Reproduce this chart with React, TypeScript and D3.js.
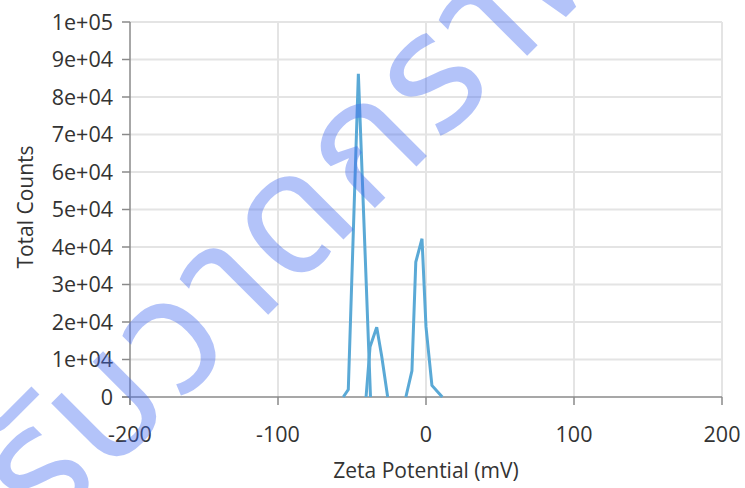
import React, { useRef, useEffect } from "react";
import * as d3 from "d3";

// three runs, same colour
const run1X = [-55.9, -52.5, -45.7, -37.5];
const run1Y = [0, 2000, 86200, 0];
const run2X = [-40.5, -37.8, -33.3, -29.9, -25.9];
const run2Y = [0, 13400, 18600, 10800, 0];
const run3X = [-13.6, -9.5, -6.9, -2.7, 0, 4, 11];
const run3Y = [0, 7000, 36000, 42200, 18700, 3100, 0];

const xTicks = [-200, -100, 0, 100, 200];
const yTicks = [0, 1e4, 2e4, 3e4, 4e4, 5e4, 6e4, 7e4, 8e4, 9e4, 1e5];
const yTickLabels = ["0", "1e+04", "2e+04", "3e+04", "4e+04", "5e+04", "6e+04", "7e+04", "8e+04", "9e+04", "1e+05"];

const watermark = "รับวาดกราฟ";

const W = 745;
const H = 488;
const font = "'Open Sans', 'Noto Sans', sans-serif";

export default function App() {
  const svgRef = useRef<SVGSVGElement>(null);

  useEffect(() => {
    if (!svgRef.current) return;
    const svg = d3.select(svgRef.current);
    svg.selectAll("*").remove();

    const left = 130, right = 722, top = 22, bottom = 397;
    const x = d3.scaleLinear().domain([-200, 200]).range([left, right]);
    const y = d3.scaleLinear().domain([0, 1e5]).range([bottom, top]);

    // grid
    svg.append("g")
      .selectAll("line")
      .data(yTicks.slice(1))
      .enter()
      .append("line")
      .attr("x1", left).attr("x2", right)
      .attr("y1", (d) => y(d)).attr("y2", (d) => y(d))
      .attr("stroke", "#e4e4e4").attr("stroke-width", 2);
    svg.append("g")
      .selectAll("line")
      .data(xTicks.slice(1))
      .enter()
      .append("line")
      .attr("x1", (d) => x(d)).attr("x2", (d) => x(d))
      .attr("y1", top).attr("y2", bottom)
      .attr("stroke", "#e4e4e4").attr("stroke-width", 2);

    // axes
    const axisColor = "#8a8a8a";
    svg.append("line")
      .attr("x1", left).attr("x2", left).attr("y1", top).attr("y2", bottom + 8)
      .attr("stroke", axisColor).attr("stroke-width", 1.5);
    svg.append("line")
      .attr("x1", left - 8).attr("x2", right).attr("y1", bottom).attr("y2", bottom)
      .attr("stroke", axisColor).attr("stroke-width", 1.5);

    svg.append("g")
      .selectAll("line")
      .data(yTicks)
      .enter()
      .append("line")
      .attr("x1", left - 8).attr("x2", left)
      .attr("y1", (d) => y(d)).attr("y2", (d) => y(d))
      .attr("stroke", axisColor).attr("stroke-width", 1.5);
    svg.append("g")
      .selectAll("line")
      .data(xTicks)
      .enter()
      .append("line")
      .attr("x1", (d) => x(d)).attr("x2", (d) => x(d))
      .attr("y1", bottom).attr("y2", bottom + 8)
      .attr("stroke", axisColor).attr("stroke-width", 1.5);

    svg.append("g")
      .selectAll("text")
      .data(yTicks)
      .enter()
      .append("text")
      .attr("x", left - 17)
      .attr("y", (d) => y(d))
      .attr("dy", "0.36em")
      .attr("text-anchor", "end")
      .attr("font-family", font).attr("font-size", 21.5).attr("fill", "#333")
      .text((d, i) => yTickLabels[i]);
    svg.append("g")
      .selectAll("text")
      .data(xTicks)
      .enter()
      .append("text")
      .attr("x", (d) => x(d))
      .attr("y", bottom + 45)
      .attr("text-anchor", "middle")
      .attr("font-family", font).attr("font-size", 21.5).attr("fill", "#333")
      .text((d) => String(d));

    svg.append("text")
      .attr("x", x(0)).attr("y", 478)
      .attr("text-anchor", "middle")
      .attr("font-family", font).attr("font-size", 21).attr("fill", "#333")
      .text("Zeta Potential (mV)");
    svg.append("text")
      .attr("transform", `translate(33,207) rotate(-90)`)
      .attr("text-anchor", "middle")
      .attr("font-family", font).attr("font-size", 21).attr("fill", "#333")
      .text("Total Counts");

    // series
    const line = d3.line<[number, number]>().x((d) => x(d[0])).y((d) => y(d[1]));
    const runs = [
      run1X.map((v, i) => [v, run1Y[i]] as [number, number]),
      run2X.map((v, i) => [v, run2Y[i]] as [number, number]),
      run3X.map((v, i) => [v, run3Y[i]] as [number, number]),
    ];
    svg.append("g")
      .selectAll("path")
      .data(runs)
      .enter()
      .append("path")
      .attr("d", (d) => line(d))
      .attr("fill", "none")
      .attr("stroke", "#5aa9d6")
      .attr("stroke-width", 3)
      .attr("stroke-linejoin", "miter");

    // watermark
    svg.append("text")
      .attr("transform", "translate(46,537) rotate(-45)")
      .attr("font-family", "'Noto Sans Thai', 'Tahoma', 'Noto Sans', sans-serif")
      .attr("font-size", 166)
      .attr("letter-spacing", 4)
      .attr("fill", "#4169f0")
      .attr("fill-opacity", 0.4)
      .text(watermark);
  }, []);

  return (
    <svg
      ref={svgRef}
      width={W}
      height={H}
      viewBox={`0 0 ${W} ${H}`}
      style={{ position: "absolute", left: 0, top: 0, background: "#fff" }}
    />
  );
}
